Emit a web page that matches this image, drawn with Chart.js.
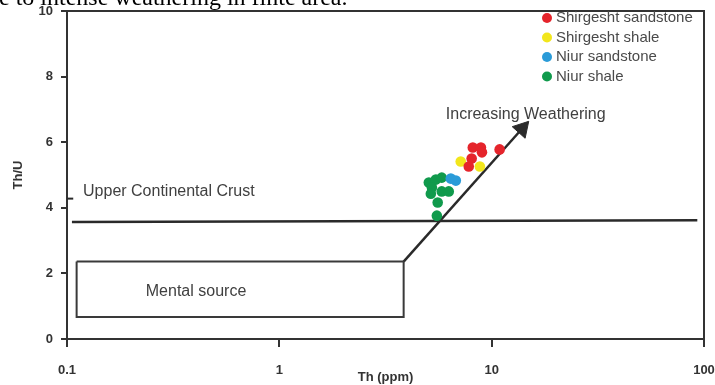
<!DOCTYPE html>
<html>
<head>
<meta charset="utf-8">
<script src="https://cdn.jsdelivr.net/npm/chart.js@4.4.1/dist/chart.umd.min.js"></script>
<style>
  html, body { margin: 0; padding: 0; background: #fff; }
  #wrap { width: 715px; height: 385px; position: relative; }
</style>
</head>
<body>
<div id="wrap"><canvas id="chart"></canvas></div>
<script>
// series
const seriesNames = ["Shirgesht sandstone", "Shirgesht shale", "Niur sandstone", "Niur shale"];
const seriesColors = ["#e5242b", "#f2e61c", "#2a9bd8", "#109a4c"];

const shirgeshtSandstoneTh = [8.15, 8.9, 9.0, 8.05, 7.8, 10.9];
const shirgeshtSandstoneThU = [5.84, 5.84, 5.69, 5.50, 5.26, 5.78];
const shirgeshtShaleTh = [7.15, 8.8];
const shirgeshtShaleThU = [5.41, 5.26];
const niurSandstoneTh = [6.42, 6.78];
const niurSandstoneThU = [4.89, 4.83];
const niurShaleTh = [5.06, 5.46, 5.82, 5.23, 5.17, 5.82, 6.28, 5.57, 5.52];
const niurShaleThU = [4.77, 4.86, 4.92, 4.62, 4.43, 4.50, 4.50, 4.16, 3.76];

// reference lines
const uccLineTh = [0.1055, 93];
const uccLineThU = [3.57, 3.62];
const uccMarkTh = [0.1, 0.107];
const uccMarkThU = [4.28, 4.28];
const mantleBoxTh = [0.111, 3.85, 3.85, 0.111, 0.111];
const mantleBoxThU = [2.36, 2.36, 0.67, 0.67, 2.36];
const arrowTh = [3.85, 13.9];
const arrowThU = [2.36, 6.41];

// text labels
const noteTexts = ["Increasing Weathering", "Upper Continental Crust", "Mental source"];
const noteTh = [6.08, 0.119, 0.235];
const noteThU = [6.85, 4.49, 1.44];
const captionText = "e to intense weathering in finte area.";

// axes
const xTicks = [0.1, 1, 10, 100];
const yTicks = [0, 2, 4, 6, 8, 10];

const pts = (xs, ys) => xs.map((x, i) => ({ x: x, y: ys[i] }));
const ink = "#2a2a2a";

const scatterSets = [
  [shirgeshtSandstoneTh, shirgeshtSandstoneThU],
  [shirgeshtShaleTh, shirgeshtShaleThU],
  [niurSandstoneTh, niurSandstoneThU],
  [niurShaleTh, niurShaleThU]
].map((s, i) => ({
  label: seriesNames[i],
  data: pts(s[0], s[1]),
  backgroundColor: seriesColors[i],
  borderColor: seriesColors[i],
  borderWidth: 0,
  pointRadius: 5.3
}));

function lineSet(name, xs, ys, extra) {
  return Object.assign({
    label: name,
    data: pts(xs, ys),
    showLine: true,
    borderColor: ink,
    borderWidth: 2.5,
    pointRadius: 0,
    fill: false
  }, extra || {});
}

const lineSets = [
  lineSet("UCC", uccLineTh, uccLineThU),
  lineSet("UCC mark", uccMarkTh, uccMarkThU, { borderWidth: 2 }),
  lineSet("Mantle", mantleBoxTh, mantleBoxThU, { borderWidth: 2, borderColor: "#3a3a3a" }),
  lineSet("Arrow", arrowTh, arrowThU, {
    pointRadius: [0, 10],
    pointStyle: "triangle",
    rotation: 42,
    pointBackgroundColor: ink,
    pointBorderColor: ink,
    pointBorderWidth: 1
  })
];

const extras = {
  id: "extras",
  beforeDatasetsDraw(chart) {
    const { ctx, chartArea: a, scales } = chart;
    ctx.save();
    // frame top and right
    ctx.strokeStyle = "#333";
    ctx.lineWidth = 2;
    ctx.beginPath();
    ctx.moveTo(a.left, a.top);
    ctx.lineTo(a.right, a.top);
    ctx.lineTo(a.right, a.bottom);
    ctx.stroke();
    // notes
    ctx.fillStyle = "#404040";
    ctx.font = "16px 'Liberation Sans', Arial, sans-serif";
    ctx.textBaseline = "middle";
    ctx.textAlign = "left";
    noteTexts.forEach((t, i) => {
      ctx.fillText(t, scales.x.getPixelForValue(noteTh[i]), scales.y.getPixelForValue(noteThU[i]));
    });
    ctx.restore();
  },
  afterDraw(chart) {
    const { ctx, chartArea: a } = chart;
    ctx.save();
    // legend
    ctx.font = "15px 'Liberation Sans', Arial, sans-serif";
    ctx.textBaseline = "middle";
    seriesNames.forEach((n, i) => {
      const y = a.top + 7 + i * 19.5;
      ctx.fillStyle = seriesColors[i];
      ctx.beginPath();
      ctx.arc(a.right - 157, y, 5, 0, Math.PI * 2);
      ctx.fill();
      ctx.fillStyle = "#4a4a4a";
      ctx.fillText(n, a.right - 148, y);
    });
    // clipped caption from the page above
    ctx.fillStyle = "#000";
    ctx.font = "24px 'Liberation Serif', 'Times New Roman', serif";
    ctx.textBaseline = "alphabetic";
    ctx.fillText(captionText, -1, 5);
    ctx.restore();
  }
};

const tickFont = { family: "'Liberation Sans', Arial, sans-serif", size: 13, weight: "bold" };

new Chart(document.getElementById("chart"), {
  type: "scatter",
  data: { datasets: scatterSets.concat(lineSets) },
  options: {
    responsive: true,
    maintainAspectRatio: false,
    animation: false,
    layout: { padding: { top: 11, right: 9, left: 0, bottom: 0 } },
    plugins: { legend: { display: false }, tooltip: { enabled: false } },
    scales: {
      x: {
        type: "logarithmic",
        min: 0.1,
        max: 100,
        afterBuildTicks(s) { s.ticks = xTicks.map(v => ({ value: v })); },
        afterFit(s) { s.height = 46; s.paddingLeft = 0; s.paddingRight = 0; },
        ticks: {
          color: "#333",
          font: tickFont,
          padding: 16,
          maxRotation: 0,
          callback: v => String(v)
        },
        grid: { drawOnChartArea: false, drawTicks: true, tickLength: 8, color: "#333", lineWidth: 2 },
        border: { display: true, color: "#333", width: 2 },
        title: {
          display: true,
          text: "Th (ppm)",
          color: "#333",
          font: { family: "'Liberation Sans', Arial, sans-serif", size: 13, weight: "bold" },
          padding: { top: 0, bottom: 0 }
        }
      },
      y: {
        min: 0,
        max: 10,
        afterBuildTicks(s) { s.ticks = yTicks.map(v => ({ value: v })); },
        afterFit(s) { s.width = 67; s.paddingTop = 0; s.paddingBottom = 0; },
        ticks: { color: "#333", font: tickFont, padding: 8 },
        grid: { drawOnChartArea: false, drawTicks: true, tickLength: 6, color: "#333", lineWidth: 2 },
        border: { display: true, color: "#333", width: 2 },
        title: {
          display: true,
          text: "Th/U",
          color: "#333",
          font: { family: "'Liberation Sans', Arial, sans-serif", size: 13, weight: "bold" },
          padding: { top: 11, bottom: 0 }
        }
      }
    }
  },
  plugins: [extras]
});
</script>
</body>
</html>
